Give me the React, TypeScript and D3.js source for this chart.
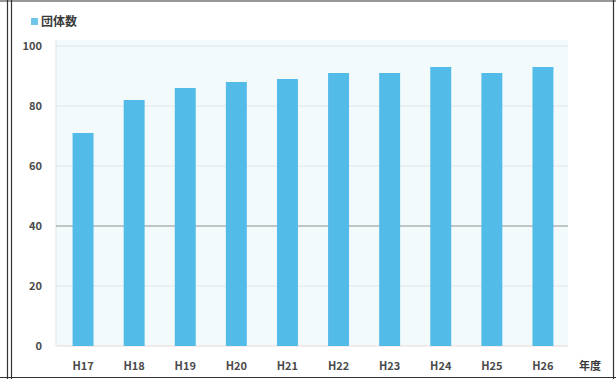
import React from "react";
import * as d3 from "d3";

const categories = ["H17", "H18", "H19", "H20", "H21", "H22", "H23", "H24", "H25", "H26"];
const values = [71, 82, 86, 88, 89, 91, 91, 93, 91, 93];
const yTicks = [0, 20, 40, 60, 80, 100];
const seriesName = "団体数";
const xAxisUnit = "年度";

const W = 616;
const H = 379;

export default function App() {
  const x = d3
    .scaleBand<string>()
    .domain(categories)
    .range([57.5, 568.5])
    .paddingInner(0.59)
    .paddingOuter(0.295);
  const y = d3.scaleLinear().domain([0, 100]).range([346, 46]);
  const font = "'Noto Sans CJK JP', 'Noto Sans', sans-serif";

  return (
    <svg
      width={W}
      height={H}
      style={{ position: "absolute", left: 0, top: 0, background: "#fff" }}
      fontFamily={font}
    >
      {/* frame lines */}
      <line x1={0} x2={616} y1={1} y2={1} stroke="#333" strokeWidth={1.2} />
      <line x1={0} x2={616} y1={377.5} y2={377.5} stroke="#333" strokeWidth={1.2} />
      <line x1={7.5} x2={7.5} y1={0} y2={379} stroke="#333" strokeWidth={1.2} />
      <line x1={11.5} x2={11.5} y1={0} y2={379} stroke="#333" strokeWidth={1.2} />
      <line x1={613.5} x2={613.5} y1={0} y2={379} stroke="#333" strokeWidth={1.2} />

      {/* plot background */}
      <rect x={56} y={40} width={512} height={306} fill="#f3fafc" />
      <line x1={56} x2={56} y1={40} y2={346} stroke="#dbe6ea" />

      {/* gridlines */}
      {yTicks.map((t) => (
        <line
          key={t}
          x1={56}
          x2={568}
          y1={y(t)}
          y2={y(t)}
          stroke={t === 40 ? "#8f8f8f" : t === 0 ? "#ead8d8" : "#e2e6e8"}
          strokeWidth={1}
        />
      ))}

      {/* bars */}
      {categories.map((c, i) => (
        <rect
          key={c}
          x={x(c)}
          y={y(values[i])}
          width={x.bandwidth()}
          height={y(0) - y(values[i])}
          fill="#52bbe7"
        />
      ))}

      {/* y tick labels */}
      {yTicks.map((t) => (
        <text
          key={t}
          x={42}
          y={y(t)}
          dy="0.35em"
          textAnchor="end"
          fontSize={11}
          fontWeight="bold"
          fill="#4a4a4a"
        >
          {t}
        </text>
      ))}

      {/* x labels */}
      {categories.map((c) => (
        <text
          key={c}
          x={(x(c) as number) + x.bandwidth() / 2}
          y={366}
          dy="0.35em"
          textAnchor="middle"
          fontSize={11}
          fontWeight="bold"
          fill="#4a4a4a"
        >
          {c}
        </text>
      ))}
      <text x={590} y={366} dy="0.35em" textAnchor="middle" fontSize={11} fontWeight="bold" fill="#3a3a3a">
        {xAxisUnit}
      </text>

      {/* legend */}
      <rect x={31} y={18} width={7} height={7} fill="#6fc6ea" />
      <text x={41} y={22} dy="0.35em" fontSize={12} fontWeight="bold" fill="#3a3a3a">
        {seriesName}
      </text>
    </svg>
  );
}
